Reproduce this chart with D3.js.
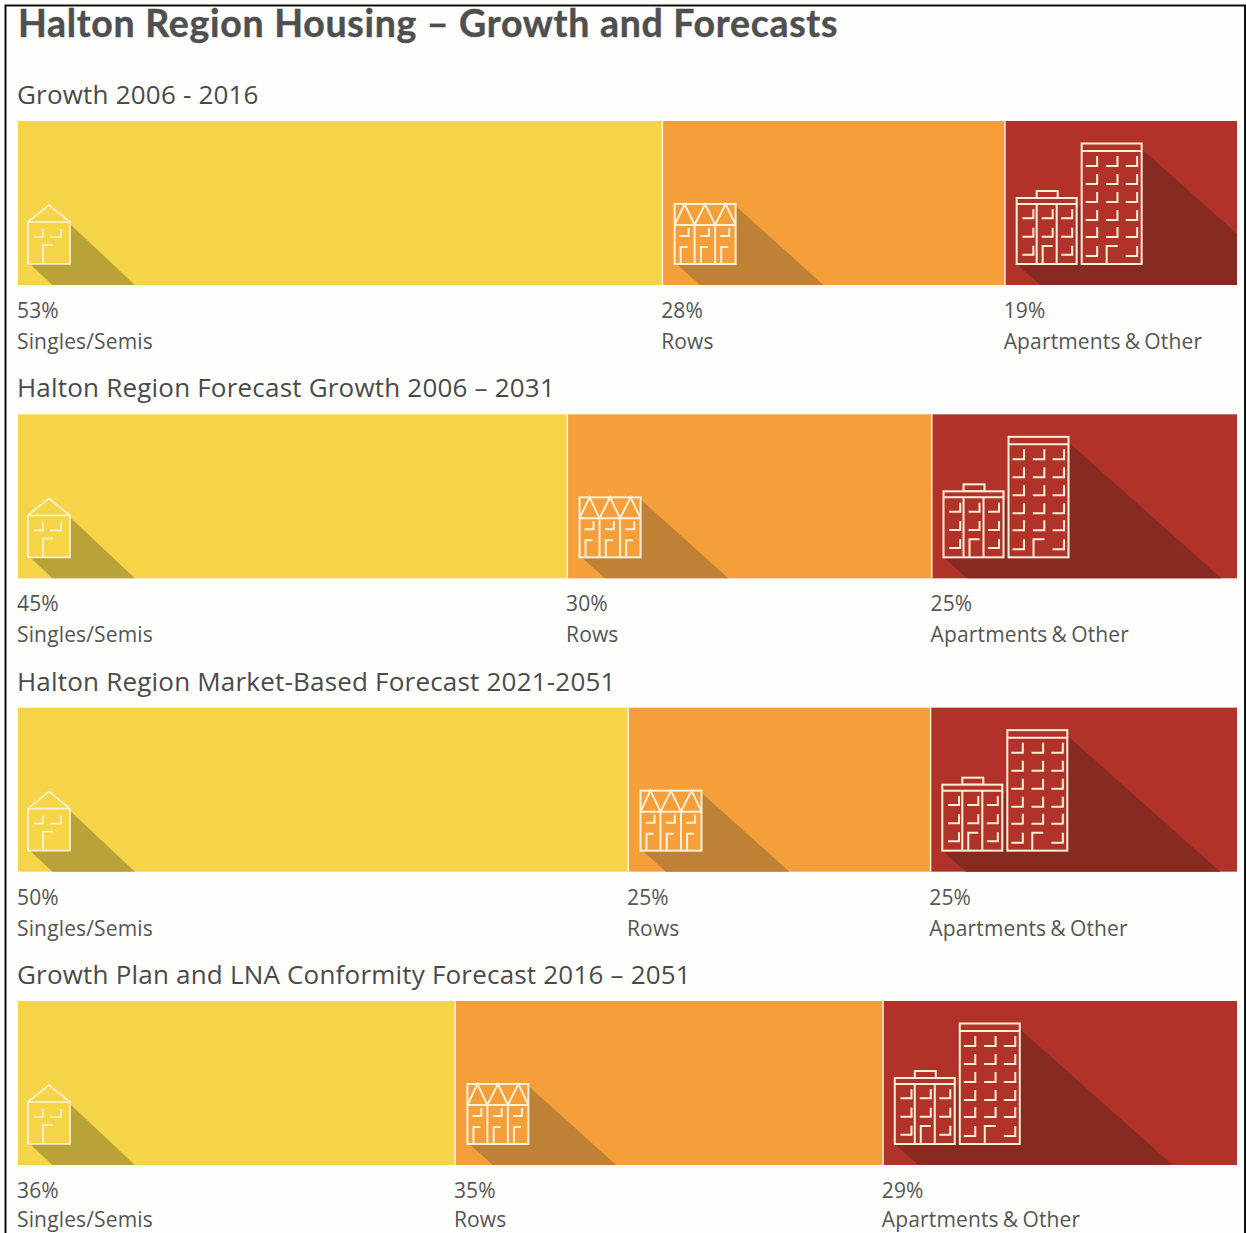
<!DOCTYPE html>
<html>
<head>
<meta charset="utf-8">
<script src="https://cdnjs.cloudflare.com/ajax/libs/d3/7.8.5/d3.min.js"></script>
<style>
html, body { margin: 0; padding: 0; background: #fefefc; overflow: hidden; }
svg { display: block; }
.title { font-family: Lato, sans-serif; font-weight: 700; font-size: 37.5px; letter-spacing: 0.7px; fill: #4f4f4f; stroke: #4f4f4f; stroke-width: 0.4px; }
.subtitle { font-family: "Open Sans", sans-serif; font-weight: 400; font-size: 26px; letter-spacing: 0.2px; fill: #4a4a4a; }
.label { font-family: "Open Sans", sans-serif; font-weight: 400; font-size: 21px; letter-spacing: 0.15px; word-spacing: -1.5px; fill: #555; }
</style>
</head>
<body>
<div id="chart"></div>
<script>
var titleText = "Halton Region Housing \u2013 Growth and Forecasts";
var panels = [
    "Growth 2006 - 2016",
    "Halton Region Forecast Growth 2006 \u2013 2031",
    "Halton Region Market-Based Forecast 2021-2051",
    "Growth Plan and LNA Conformity Forecast 2016 \u2013 2051"
];
var categories = ["Singles/Semis", "Rows", "Apartments & Other"];
var singles = [52.8, 45.0, 50.0, 35.8];
var rows = [28.1, 29.9, 24.8, 35.1];
var apartments = [19.1, 25.1, 25.2, 29.1];

var colors = ["#f5d547", "#f49f3a", "#b03228"];
var shadows = ["#b9a23a", "#bf8136", "#872a22"];

var w = 1246, h = 1233;
var barH = 164;

var svg = d3.select("#chart").append("svg")
    .attr("width", w)
    .attr("height", h);

var xScale = d3.scaleLinear().domain([0, 100]).range([18, 1237]);
var yScale = d3.scalePoint().domain(panels).range([121, 1001]);
var pct = d3.format(".0f");

// frame is open at the bottom
svg.append("path")
    .attr("d", "M5.5," + h + "V5.5H1245V" + h)
    .attr("fill", "none")
    .attr("stroke", "#111")
    .attr("stroke-width", 2);

svg.append("text")
    .attr("class", "title")
    .attr("x", 18)
    .attr("y", 37)
    .text(titleText);

// icons are drawn from local coordinates, 0,0 = bottom left of the icon
function rect(g, x, y, rw, rh) {
    g.append("rect")
        .attr("x", x).attr("y", y)
        .attr("width", rw).attr("height", rh);
}

function line(g, d) {
    g.append("path").attr("d", d).attr("fill", "none");
}

function room(g, x, y, rw, rh) {
    line(g, "M" + x + "," + y + "h" + rw + "v-" + rh);
}

function door(g, x, rw, rh) {
    line(g, "M" + x + ",0v-" + rh + "h" + rw);
}

function drawHouse(g) {
    g.append("path").attr("d", "M0,-42L21,-59L42,-42V0H0Z");
    line(g, "M0,-42H42");
    room(g, 6, -27, 9, 8);
    room(g, 22, -27, 11, 8);
    door(g, 15, 10, 19);
}

function drawRows(g) {
    rect(g, 0, -60, 61, 60);
    line(g, "M0,-39H61M20,-39V0M40.5,-39V0");
    line(g, "M0,-39L10,-60L20,-39L30.5,-60L40.5,-39L51,-60L61,-39");
    [0, 20.3, 40.6].forEach(function (x) {
        room(g, x + 5, -28, 9, 8);
        door(g, x + 6, 7, 17);
    });
}

function drawApartments(g) {
    var lowCols = [5.7, 25, 44.5];
    var lowRows = [-45.7, -27.3, -9.3];
    var tallCols = [69, 89.3, 109];
    var tallRows = [-98, -80, -62, -44, -27, -8];

    // low block
    rect(g, 20, -73, 21, 7);
    rect(g, 0, -66, 60, 66);
    line(g, "M0,-60H60M20,-60V0M40,-60V0");
    lowCols.forEach(function (x, c) {
        lowRows.forEach(function (y, r) {
            if (!(c == 1 && r == 2)) room(g, x, y, 11, 9);
        });
    });
    door(g, 26, 10, 18);

    // tall block
    rect(g, 65, -120.5, 60, 120.5);
    line(g, "M65,-113H125");
    tallCols.forEach(function (x, c) {
        tallRows.forEach(function (y, r) {
            if (!(c == 1 && r == 5)) room(g, x, y, 11.5, 10);
        });
    });
    door(g, 90, 11, 18);
}

var iconDraw = [drawHouse, drawRows, drawApartments];
// where the cast shadow leaves each icon, plus its slope and the icon's inset
var shadowLine = [
    { topX: 42, topY: -40, lowX: 2, slope: 0.94, inset: 10 },
    { topX: 61, topY: -58, lowX: 2, slope: 0.9, inset: 13 },
    { topX: 125, topY: -115, lowX: 0, slope: 0.89, inset: 12.5 }
];

panels.forEach(function (panel, i) {
    var values = [singles[i], rows[i], apartments[i]];
    var top = yScale(panel);
    var row = svg.append("g").attr("class", "panel");

    row.append("text")
        .attr("class", "subtitle")
        .attr("x", 17)
        .attr("y", top - 17)
        .text(panel);

    var start = 0;
    values.forEach(function (v, k) {
        var x0 = xScale(start);
        var x1 = xScale(start + v);
        start += v;

        var clipId = "clip" + i + "_" + k;
        svg.append("clipPath").attr("id", clipId)
            .append("rect")
            .attr("x", x0).attr("y", top)
            .attr("width", x1 - x0).attr("height", barH);

        row.append("rect")
            .attr("x", x0)
            .attr("y", top)
            .attr("width", x1 - x0)
            .attr("height", barH)
            .attr("fill", colors[k]);

        var s = shadowLine[k];
        var ix = x0 + s.inset;
        var iy = top + 143;
        var reach = 300;
        row.append("path")
            .attr("clip-path", "url(#" + clipId + ")")
            .attr("fill", shadows[k])
            .attr("d", "M" + (ix + s.topX) + "," + (iy + s.topY)
                + "L" + (ix + s.topX + reach) + "," + (iy + s.topY + reach * s.slope)
                + "L" + (ix + s.lowX + reach) + "," + (iy + reach * s.slope)
                + "L" + (ix + s.lowX) + "," + iy + "Z");

        // the icon is filled with the bar colour so the shadow stays outside it
        var icon = row.append("g")
            .attr("transform", "translate(" + ix + "," + iy + ")")
            .attr("fill", colors[k])
            .attr("stroke", "#fdf0d8")
            .attr("stroke-width", k == 0 ? 1.7 : 2);
        iconDraw[k](icon);

        // segment divider
        if (k > 0) {
            row.append("rect")
                .attr("x", x0)
                .attr("y", top)
                .attr("width", 1.5)
                .attr("height", barH)
                .attr("fill", "#fdf6e0");
        }

        var labelX = k == 0 ? 17 : x0 - 0.5;
        row.append("text")
            .attr("class", "label")
            .attr("x", labelX)
            .attr("y", top + barH + 33)
            .text(pct(v) + "%");

        // last row sits on the page edge, keep it just inside
        row.append("text")
            .attr("class", "label")
            .attr("x", labelX)
            .attr("y", Math.min(top + barH + 64, h - 6))
            .text(categories[k]);
    });
});
</script>
</body>
</html>
